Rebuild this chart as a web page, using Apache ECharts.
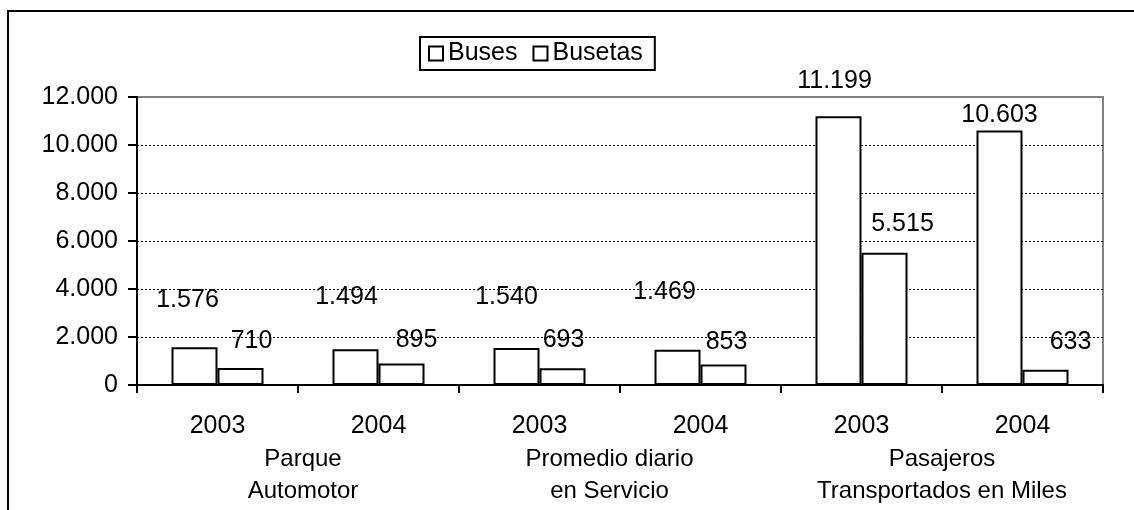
<!DOCTYPE html>
<html>
<head>
<meta charset="utf-8">
<script src="https://cdn.jsdelivr.net/npm/echarts@6/dist/echarts.min.js"></script>
<style>
  html, body { margin: 0; padding: 0; background: #fff; }
  #chart { width: 1134px; height: 510px; }
</style>
</head>
<body>
<div id="chart"></div>
<script>
// ---- data ----
const yearLabels = ['2003', '2004', '2003', '2004', '2003', '2004'];
const groupLabels = ['Parque\nAutomotor', 'Promedio diario\nen Servicio', 'Pasajeros\nTransportados en Miles'];
const seriesNames = ['Buses', 'Busetas'];
const busesValues = [1576, 1494, 1540, 1469, 11199, 10603];
const busetasValues = [710, 895, 693, 853, 5515, 633];
const yTicks = [0, 2000, 4000, 6000, 8000, 10000, 12000];

// ---- label placement (layout only) ----
const busesLabelOffsets = [[-7, -30], [-9, -35], [-10, -33], [-13, -40], [-4, -18], [0, 2]];
const busetasLabelOffsets = [[11, -9], [15, -6], [1, -11], [3, -5], [18, -11], [25, -10]];
const groupLabelPadding = [[0, 0, 0, 10], [0, 21, 0, 0], [0, 0, 0, 0]];

const FONT = '"Liberation Sans", Arial, sans-serif';
const FS = 25;
function fmt(v) {
  return String(v).replace(/\B(?=(\d{3})+(?!\d))/g, '.');
}

function makeData(values, offsets) {
  return values.map((v, i) => ({ value: v, label: { offset: offsets[i] } }));
}

const barStyle = { color: '#ffffff', borderColor: '#000000', borderWidth: 2 };
const labelStyle = {
  show: true, position: 'top', distance: 5,
  formatter: p => fmt(p.value),
  fontFamily: FONT, fontSize: FS, color: '#000'
};

const chart = echarts.init(document.getElementById('chart'), null, { renderer: 'canvas' });
chart.setOption({
  animation: false,
  backgroundColor: '#ffffff',
  textStyle: { fontFamily: FONT, color: '#000' },
  graphic: [{
    type: 'polyline',
    shape: { points: [[8, 700], [8, 11], [1400, 11]] },
    style: { fill: null, stroke: '#000', lineWidth: 2 },
    silent: true, z: -1
  }],
  legend: {
    data: seriesNames,
    left: 420, top: 37,
    orient: 'horizontal',
    padding: [4, 12, 4, 8],
    itemGap: 15,
    itemWidth: 14, itemHeight: 14,
    icon: 'rect',
    borderColor: '#000', borderWidth: 2,
    backgroundColor: '#fff',
    itemStyle: { color: '#fff', borderColor: '#000', borderWidth: 2 },
    textStyle: { fontFamily: FONT, fontSize: FS, color: '#000' }
  },
  grid: {
    left: 137, right: 31, top: 97, bottom: 125,
    show: true, borderColor: '#808080', borderWidth: 2,
    containLabel: false
  },
  xAxis: [{
    type: 'category',
    data: yearLabels,
    position: 'bottom',
    axisLine: { show: true, lineStyle: { color: '#000', width: 2 } },
    axisTick: { show: true, length: 8, interval: 0, lineStyle: { color: '#000', width: 2 } },
    axisLabel: { interval: 0, margin: 29, fontFamily: FONT, fontSize: FS, color: '#000' },
    splitLine: { show: false }
  }, {
    type: 'category',
    data: groupLabels.map((g, i) => ({ value: g, textStyle: { padding: groupLabelPadding[i] } })),
    position: 'bottom',
    axisLine: { show: false },
    axisTick: { show: false },
    axisLabel: { interval: 0, margin: 58, fontFamily: FONT, fontSize: 24, lineHeight: 32, color: '#000' },
    splitLine: { show: false }
  }],
  yAxis: {
    type: 'value',
    min: yTicks[0], max: yTicks[yTicks.length - 1], interval: yTicks[1] - yTicks[0],
    axisLine: { show: true, lineStyle: { color: '#000', width: 2 } },
    axisTick: { show: true, length: 9, lineStyle: { color: '#000', width: 2 } },
    axisLabel: { margin: 19, formatter: v => fmt(v), fontFamily: FONT, fontSize: FS, color: '#000' },
    splitLine: { show: true, showMinLine: false, showMaxLine: false, lineStyle: { color: '#000', width: 1, type: [2, 2] } }
  },
  series: [{
    name: seriesNames[0], type: 'bar', xAxisIndex: 0,
    barWidth: 46, barGap: '0%',
    itemStyle: barStyle, label: labelStyle,
    data: makeData(busesValues, busesLabelOffsets)
  }, {
    name: seriesNames[1], type: 'bar', xAxisIndex: 0,
    barWidth: 46, barGap: '0%',
    itemStyle: barStyle, label: labelStyle,
    data: makeData(busetasValues, busetasLabelOffsets)
  }]
});
</script>
</body>
</html>
